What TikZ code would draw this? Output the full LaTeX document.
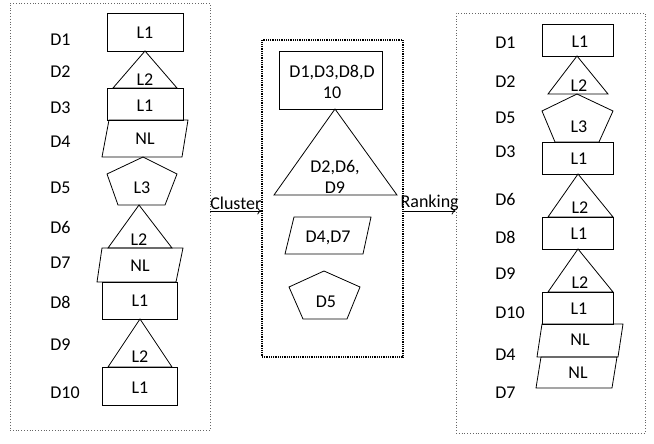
\documentclass[tikz,border=0pt]{standalone}
\usepackage{fontspec}
\setmainfont{Carlito}
\usetikzlibrary{arrows.meta}
\begin{document}
\begin{tikzpicture}[x=1pt,y=-1pt, line width=0.8pt,
    txt/.style={font=\fontsize{18}{21}\selectfont, inner sep=0pt, align=center},
    grp/.style={draw, gray!80!black, dotted, line width=0.8pt, inner sep=0pt}]
  \useasboundingbox (0,0) rectangle (654,444);
  % the three groups
  \node[grp, minimum width=200, minimum height=427] (docs) at (110,216.5) {};
  \node[grp, draw=black, densely dotted, line width=1.4pt, minimum width=141, minimum height=317] (clus) at (332.5,198.5) {};
  \node[grp, minimum width=189, minimum height=420] (rank) at (550.5,223) {};
  \draw[-{To[length=4pt,width=7pt]}] (docs.east |- 0,211) -- node[txt, above=0.5pt] (cl) {Cluster} (clus.west |- 0,211);
  \draw[-{To[length=4pt,width=7pt]}] (clus.east |- 0,211) -- node[txt, above=0.5pt] (rk) {Ranking} (rank.west |- 0,211);
  % documents, left
  \foreach \n/\y in {1/40, 2/72, 3/108, 4/142, 5/188, 6/227, 7/263, 8/302, 9/345, 10/393}
    \node[txt, anchor=west] (l\n) at (50,\y) {D\n};
  \draw (107,13) rectangle (183,51);
  \draw (145,51) -- (113,88) -- (177,88) -- cycle;
  \draw (107,88) rectangle (183,120);
  \draw (109,120) -- (188,120) -- (182,157) -- (102,157) -- cycle;
  \draw (143,157) -- (177,174) -- (165,205) -- (118,205) -- (107,174) -- cycle;
  \draw (139,205) -- (108,248) -- (172,248) -- cycle;
  \draw (102,248) -- (183,248) -- (176,282) -- (97,282) -- cycle;
  \draw (102,282) rectangle (177,319);
  \draw (140,319) -- (108,367) -- (172,367) -- cycle;
  \draw (102,367) rectangle (177,405);
  \node[txt] (a1) at (145,33) {L1};
  \node[txt] (a2) at (145,80) {L2};
  \node[txt] (a3) at (145,106) {L1};
  \node[txt] (a4) at (145,139) {NL};
  \node[txt] (a5) at (142,188) {L3};
  \node[txt] (a6) at (139,240) {L2};
  \node[txt] (a7) at (140,266) {NL};
  \node[txt] (a8) at (140,301) {L1};
  \node[txt] (a9) at (140,357) {L2};
  \node[txt] (a10) at (140,388) {L1};
  % clusters, middle
  \draw (279,51) rectangle (382,109);
  \draw (335,109) -- (274,195) -- (397,195) -- cycle;
  \draw (294,217) -- (371,217) -- (363,254) -- (285,254) -- cycle;
  \draw (324,271) -- (360,287) -- (347,319) -- (303,319) -- (289,287) -- cycle;
  \node[txt] (c1) at (332,82) {D1,D3,D8,D\\10};
  \node[txt] (c2) at (335,177) {D2,D6,\\D9};
  \node[txt] (c3) at (328,238) {D4,D7};
  \node[txt] (c4) at (326,302) {D5};
  % ranked list, right
  \foreach \n/\y in {1/43, 2/82, 5/118, 3/152, 6/199, 8/237, 9/274, 10/313, 4/355, 7/393}
    \node[txt, anchor=west] (r\n) at (495,\y) {D\n};
  \draw (542,24) rectangle (613,56);
  \draw (577,56) -- (548,94) -- (608,94) -- cycle;
  \draw (577,94) -- (613,111) -- (599,142) -- (555,142) -- (542,111) -- cycle;
  \draw (542,142) rectangle (613,174);
  \draw (578,174) -- (548,217) -- (613,217) -- cycle;
  \draw (542,217) rectangle (613,249);
  \draw (578,249) -- (548,292) -- (613,292) -- cycle;
  \draw (542,292) rectangle (613,324);
  \draw (542,324) -- (623,324) -- (618,357) -- (537,357) -- cycle;
  \draw (541,357) -- (617,357) -- (612,388) -- (536,388) -- cycle;
  \node[txt] (b1) at (580,42) {L1};
  \node[txt] (b2) at (579,86) {L2};
  \node[txt] (b3) at (579,127) {L3};
  \node[txt] (b4) at (579,159) {L1};
  \node[txt] (b5) at (580,208) {L2};
  \node[txt] (b6) at (579,234) {L1};
  \node[txt] (b7) at (580,283) {L2};
  \node[txt] (b8) at (579,309) {L1};
  \node[txt] (b9) at (580,340) {NL};
  \node[txt] (b10) at (578,373) {NL};
\end{tikzpicture}
\end{document}
